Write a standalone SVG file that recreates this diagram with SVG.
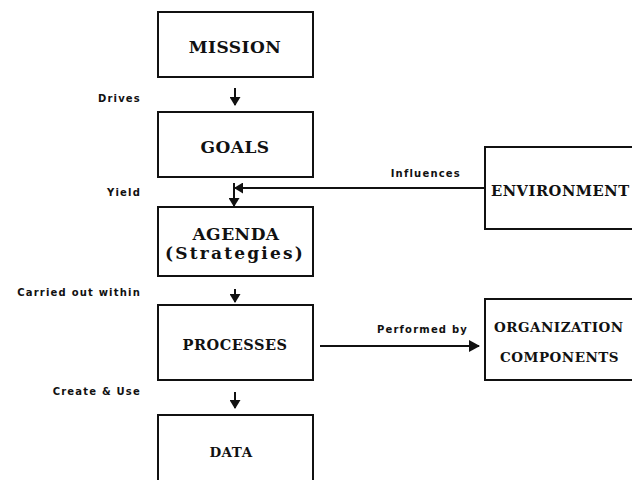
<svg xmlns="http://www.w3.org/2000/svg" width="632" height="480" viewBox="0 0 632 480">
<style>
.box{fill:#fff;stroke:#111;stroke-width:2}
.t{font-family:"DejaVu Serif",serif;font-weight:bold;font-size:17px;fill:#111;text-anchor:middle;letter-spacing:0.5px}
.l{font-family:"DejaVu Sans",sans-serif;font-weight:bold;font-size:10px;fill:#111;letter-spacing:1.2px}
.c{stroke:#111;stroke-width:2;fill:none}
</style>
<defs>
<marker id="ah" markerWidth="10" markerHeight="11" refX="8" refY="5.5" orient="auto" markerUnits="userSpaceOnUse"><path d="M0,0 L9,5.5 L0,11 z" fill="#111"/></marker>
<marker id="ahb" markerWidth="11" markerHeight="12" refX="10" refY="6" orient="auto" markerUnits="userSpaceOnUse"><path d="M0,0 L11,6 L0,12 z" fill="#111"/></marker>
</defs>
<g id="mission"><rect class="box" x="158" y="12" width="155" height="65"/><text class="t" x="235" y="53">MISSION</text></g>
<g id="goals"><rect class="box" x="158" y="112" width="155" height="65"/><text class="t" x="235" y="153">GOALS</text></g>
<g id="agenda"><rect class="box" x="158" y="207" width="155" height="69"/><text class="t" x="236" y="240">AGENDA</text><text class="t" x="235" y="259" style="letter-spacing:2.2px">(Strategies)</text></g>
<g id="processes"><rect class="box" x="158" y="305" width="155" height="75"/><text class="t" x="235" y="350" style="font-size:14.5px">PROCESSES</text></g>
<g id="data"><rect class="box" x="158" y="415" width="155" height="80"/><text class="t" x="231" y="457" style="font-size:13.5px">DATA</text></g>
<g id="environment"><rect class="box" x="485" y="147" width="160" height="82"/><text class="t" x="491" y="196" style="text-anchor:start;font-size:14.7px">ENVIRONMENT</text></g>
<g id="organization"><rect class="box" x="485" y="299" width="160" height="81"/><text class="t" x="494" y="332" style="text-anchor:start;font-size:13.5px">ORGANIZATION</text><text class="t" x="500" y="362" style="text-anchor:start;font-size:13.5px">COMPONENTS</text></g>
<g id="connectors">
<line class="c" x1="235" y1="88" x2="235" y2="105" marker-end="url(#ah)"/>
<line class="c" x1="234" y1="183" x2="234" y2="206" marker-end="url(#ah)"/>
<line class="c" x1="484" y1="188" x2="235" y2="188" marker-end="url(#ah)"/>
<line class="c" x1="235" y1="289" x2="235" y2="302" marker-end="url(#ah)"/>
<line class="c" x1="235" y1="392" x2="235" y2="408" marker-end="url(#ah)"/>
<line class="c" x1="320" y1="346" x2="479" y2="346" marker-end="url(#ahb)"/>
<text class="l" x="141" y="102" text-anchor="end">Drives</text>
<text class="l" x="141" y="196" text-anchor="end">Yield</text>
<text class="l" x="141" y="296" text-anchor="end">Carried out within</text>
<text class="l" x="141" y="395" text-anchor="end">Create &amp; Use</text>
<text class="l" x="461" y="177" text-anchor="end">Influences</text>
<text class="l" x="468" y="333" text-anchor="end">Performed by</text>
</g>
</svg>
